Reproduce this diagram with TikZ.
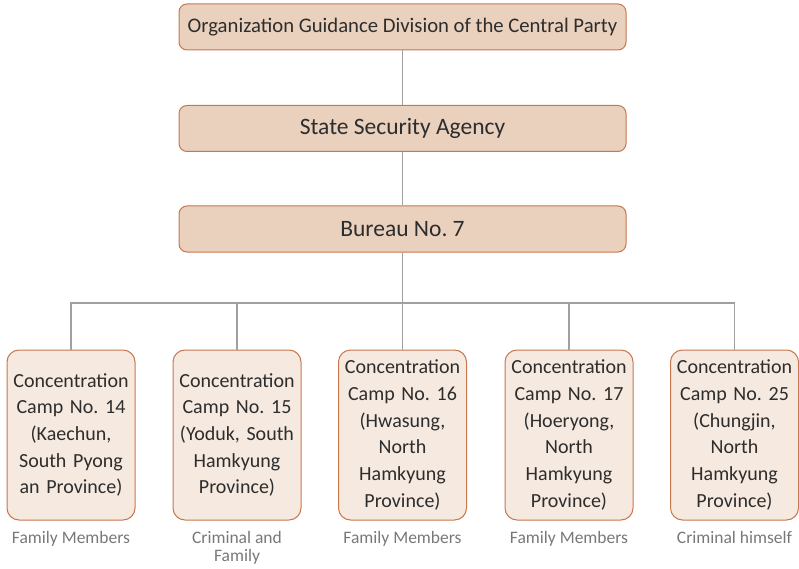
\documentclass[tikz,border=0pt]{standalone}
\usepackage{fontspec}
\setmainfont{Carlito}
\usepackage{tikz}
\usetikzlibrary{positioning}

\definecolor{headfill}{RGB}{234,209,190}
\definecolor{campfill}{RGB}{245,233,224}
\definecolor{boxline}{RGB}{200,118,76}
\definecolor{ink}{RGB}{45,45,45}
\definecolor{notegray}{RGB}{120,120,120}
\definecolor{linegray}{RGB}{160,160,160}

\begin{document}
\begin{tikzpicture}[x=1pt,y=1pt,
        headbox/.style={draw=boxline, line width=1pt, fill=headfill, rounded corners=8pt,
            minimum width=447pt, minimum height=46pt, text=ink, font=\fontsize{23.5}{28}\selectfont},
        campbox/.style={draw=boxline, line width=1pt, fill=campfill, rounded corners=12pt,
            minimum width=128pt, minimum height=170pt, text width=124pt, inner sep=0pt,
            align=center, text=ink, font=\fontsize{20}{26.7}\selectfont},
        note/.style={text=notegray, align=center, inner sep=0pt, font=\fontsize{17.5}{18}\selectfont},
        link/.style={draw=linegray, line width=1.2pt}]
        \useasboundingbox (0,0) rectangle (799,-569);
        % party chain
        \node[headbox, font=\fontsize{20.7}{24}\selectfont] (ogd) at (402.5,-27) {Organization Guidance Division of the Central Party};
        \node[headbox] (ssa) at (402.5,-128.5) {State Security Agency};
        \node[headbox] (bureau) at (402.5,-229) {Bureau No.\ 7};
        % camps
        \node[campbox] (camp14) at (71,-435) {Concentration\\Camp No.\ 14\\(Kaechun,\\South Pyong\\an Province)};
        \node[campbox] (camp15) at (237,-435) {Concentration\\Camp No.\ 15\\(Yoduk, South\\Hamkyung\\Province)};
        \node[campbox] (camp16) at (402.5,-435) {Concentration\\Camp No.\ 16\\(Hwasung,\\North\\Hamkyung\\Province)};
        \node[campbox] (camp17) at (569,-435) {Concentration\\Camp No.\ 17\\(Hoeryong,\\North\\Hamkyung\\Province)};
        \node[campbox] (camp25) at (734.5,-435) {Concentration\\Camp No.\ 25\\(Chungjin,\\North\\Hamkyung\\Province)};
        % who is held
        \node[note, below=11pt of camp14] (held14) {Family Members};
        \node[note, below=11pt of camp15] (held15) {Criminal and\\Family};
        \node[note, below=11pt of camp16] (held16) {Family Members};
        \node[note, below=11pt of camp17] (held17) {Family Members};
        \node[note, below=11pt of camp25] (held25) {Criminal himself};
        % links
        \coordinate (bus) at (402.5,-303);
        \draw[link] (ogd) -- (ssa);
        \draw[link] (ssa) -- (bureau);
        \draw[link] (bureau) -- (bus);
        \foreach \c in {camp14,camp15,camp16,camp17,camp25}
            \draw[link] (bus) -| (\c.north);
\end{tikzpicture}
\end{document}
